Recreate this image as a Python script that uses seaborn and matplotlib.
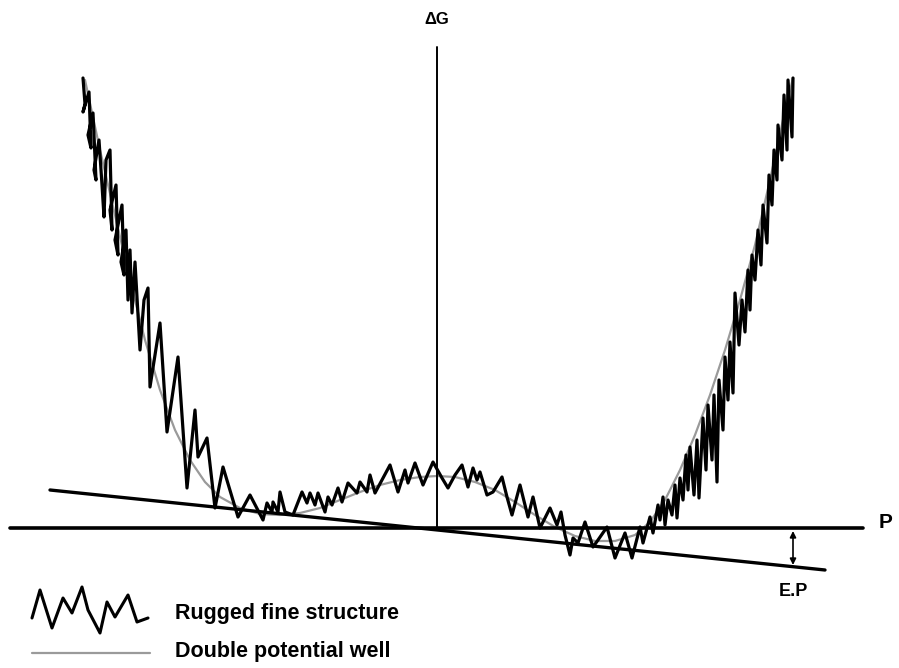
import numpy as np
import pandas as pd
import matplotlib
matplotlib.use("Agg")
import matplotlib.pyplot as plt
import seaborn as sns

# readings, in picture pixels (x right, y down)
# origin of the P / dG axes sits at (437, 528); 100 px = 1 unit
ORIGIN_X, ORIGIN_Y, SCALE = 437, 528, 100.0

# smooth double potential well
well_x = [85, 100, 115, 130, 145, 160, 175, 190, 205, 220, 240, 260, 280, 300, 320, 340,
          360, 380, 400, 420, 437, 455, 475, 495, 515, 535, 555, 575, 595, 615, 635, 650,
          665, 680, 695, 710, 725, 740, 755, 770, 783, 793]
well_y = [80, 150, 215, 280, 340, 390, 430, 460, 482, 497, 508, 514, 515, 513, 508, 500,
          492, 485, 480, 477, 476, 477, 482, 490, 502, 515, 527, 536, 541, 541, 535, 522,
          500, 470, 435, 395, 350, 300, 245, 180, 120, 78]

# rugged fine structure on top of the well
rug_x = [83, 85, 83, 89, 91, 88, 93, 96, 94, 99, 102, 104, 106, 110, 112, 110, 116, 118,
         115, 122, 124, 121, 126, 128, 130, 132, 135, 140, 144, 148, 150, 160, 167, 178, 187,
         195, 198, 207, 215, 223, 238, 250, 263, 267, 272, 273, 278, 280, 285, 293, 302, 307,
         310, 315, 318, 325, 328, 332, 338, 342, 348, 357, 360, 367, 370, 375, 382, 390, 398,
         405, 408, 415, 423, 433, 442, 448, 455, 462, 468, 473, 477, 480, 487, 493, 502, 507,
         512, 520, 528, 533, 540, 550, 557, 561, 565, 570, 573, 578, 585, 593, 598, 607, 615,
         625, 632, 640, 643, 650, 653, 658, 660, 663, 665, 668, 672, 675, 677, 680, 683, 686,
         688, 690, 694, 697, 699, 703, 706, 708, 712, 714, 717, 719, 723, 725, 728, 730, 733,
         735, 739, 742, 745, 748, 750, 752, 755, 758, 761, 763, 767, 769, 772, 774, 777, 778,
         782, 784, 787, 788, 792, 793]
rug_y = [78, 104, 112, 92, 148, 135, 113, 180, 170, 140, 185, 217, 160, 150, 230, 210, 185, 255,
         240, 205, 275, 262, 230, 300, 250, 313, 262, 350, 300, 288, 387, 323, 432, 357, 488,
         410, 457, 438, 508, 467, 517, 495, 520, 503, 512, 502, 512, 492, 512, 515, 492, 503,
         493, 505, 493, 512, 497, 505, 488, 502, 483, 493, 482, 492, 475, 493, 480, 465, 492,
         470, 483, 463, 485, 462, 478, 488, 475, 465, 487, 468, 480, 472, 495, 492, 477, 497,
         515, 485, 517, 497, 528, 508, 525, 512, 535, 555, 538, 543, 522, 547, 540, 527, 558,
         533, 558, 527, 543, 517, 533, 505, 520, 497, 525, 500, 515, 485, 518, 478, 500, 455,
         490, 447, 495, 440, 498, 418, 470, 405, 460, 395, 482, 380, 430, 357, 400, 342, 393,
         293, 345, 300, 332, 270, 310, 255, 280, 230, 265, 205, 243, 175, 205, 150, 180, 125,
         160, 95, 150, 80, 137, 78]

# tilted line of the external pressure
tilt_x = [50, 825]
tilt_y = [490, 570]

# legend samples
leg_rug_x = [32, 40, 52, 63, 72, 82, 88, 100, 107, 115, 128, 137, 148]
leg_rug_y = [618, 590, 628, 598, 613, 587, 610, 633, 602, 617, 595, 622, 618]
leg_well_x = [32, 150]
leg_well_y = [653, 653]


def to_pg(xs, ys):
    return pd.DataFrame({"P": (np.array(xs) - ORIGIN_X) / SCALE,
                         "G": (ORIGIN_Y - np.array(ys)) / SCALE})


sns.set_style("white")
plt.rcParams["font.family"] = ["Liberation Sans", "DejaVu Sans"]
plt.rcParams["text.color"] = "black"

fig = plt.figure(figsize=(8.99, 6.68), dpi=100)
ax = fig.add_axes([0, 0, 1, 1])

well = to_pg(well_x, well_y)
rug = to_pg(rug_x, rug_y)
tilt = to_pg(tilt_x, tilt_y)
leg_rug = to_pg(leg_rug_x, leg_rug_y)
leg_well = to_pg(leg_well_x, leg_well_y)

sns.lineplot(data=well, x="P", y="G", sort=False, estimator=None, color="#9a9a9a", lw=1.6, ax=ax)
sns.lineplot(data=rug, x="P", y="G", sort=False, estimator=None, color="black", lw=2.3, ax=ax)
sns.lineplot(data=tilt, x="P", y="G", sort=False, estimator=None, color="black", lw=2.4, ax=ax)
sns.lineplot(data=leg_rug, x="P", y="G", sort=False, estimator=None, color="black", lw=2.2, ax=ax)
sns.lineplot(data=leg_well, x="P", y="G", sort=False, estimator=None, color="#9a9a9a", lw=1.6, ax=ax)

# axes
ax.plot([(10 - ORIGIN_X) / SCALE, (863 - ORIGIN_X) / SCALE], [0, 0], color="black", lw=2.6)
ax.plot([0, 0], [0, (ORIGIN_Y - 47) / SCALE], color="black", lw=1.4)

# E.P arrow
ep_x = (793 - ORIGIN_X) / SCALE
ax.annotate("", xy=(ep_x, (ORIGIN_Y - 565) / SCALE), xytext=(ep_x, (ORIGIN_Y - 531) / SCALE),
            arrowprops=dict(arrowstyle="<|-|>", color="black", lw=1.2, mutation_scale=9,
                            shrinkA=0, shrinkB=0))

ax.text(0, (ORIGIN_Y - 20) / SCALE, "ΔG", ha="center", va="center", fontsize=12, fontweight="bold")
ax.text((886 - ORIGIN_X) / SCALE, (ORIGIN_Y - 522) / SCALE, "P", ha="center", va="center",
        fontsize=15, fontweight="bold")
ax.text(ep_x, (ORIGIN_Y - 592) / SCALE, "E.P", ha="center", va="center", fontsize=13,
        fontweight="bold")
ax.text((175 - ORIGIN_X) / SCALE, (ORIGIN_Y - 614) / SCALE, "Rugged fine structure",
        ha="left", va="center", fontsize=15.5, fontweight="bold")
ax.text((175 - ORIGIN_X) / SCALE, (ORIGIN_Y - 652) / SCALE, "Double potential well",
        ha="left", va="center", fontsize=15.5, fontweight="bold")

ax.set_xlim(-ORIGIN_X / SCALE, (899 - ORIGIN_X) / SCALE)
ax.set_ylim((ORIGIN_Y - 668) / SCALE, ORIGIN_Y / SCALE)
ax.set_axis_off()

fig.savefig("out.png", dpi=100)
